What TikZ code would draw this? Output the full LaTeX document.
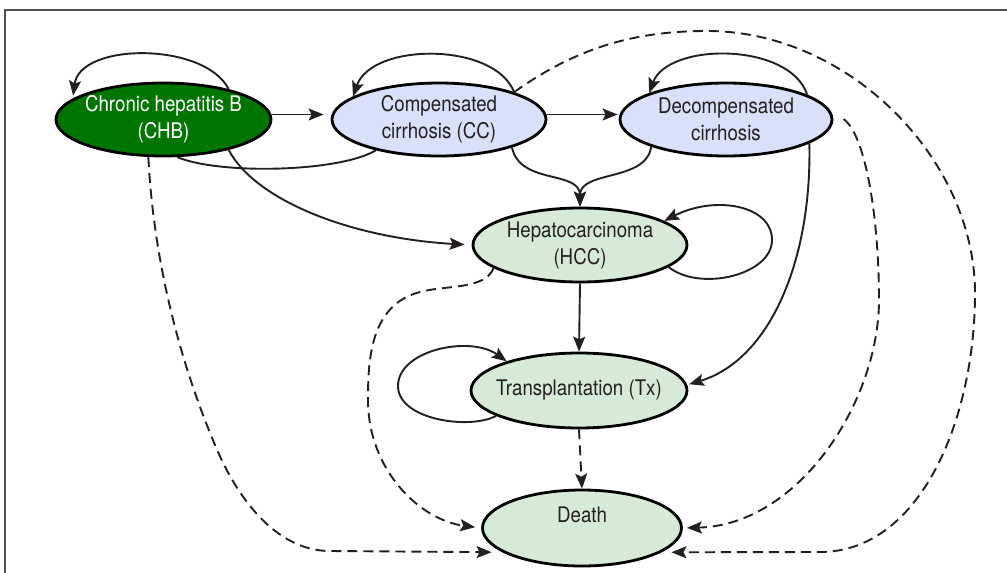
\documentclass[tikz,border=0pt]{standalone}
\usepackage{fontspec}
\setmainfont[FakeStretch=0.87]{TeX Gyre Heros}
\usetikzlibrary{shapes.geometric,arrows.meta}
\definecolor{chbfill}{RGB}{0,117,0}
\definecolor{ccfill}{RGB}{217,224,250}
\definecolor{gfill}{RGB}{215,234,215}
\definecolor{linedark}{RGB}{35,31,32}
\definecolor{framegray}{RGB}{80,80,80}
\tikzset{
  state/.style={ellipse, draw=black, line width=2.8pt, inner xsep=-14pt, inner ysep=0pt,
    align=center, font=\fontsize{21.5}{27}\selectfont, text=linedark},
  trans/.style={line width=1.9pt, draw=linedark,
    -{Stealth[length=15pt,width=12pt,inset=3pt]}},
  dtrans/.style={trans, dash pattern=on 10pt off 6pt},
  plainline/.style={line width=1.9pt, draw=linedark},
}
\begin{document}
\begin{tikzpicture}[x=1pt,y=-1pt]
\useasboundingbox (0,0) rectangle (1007,573);
\draw[framegray, line width=2pt] (1007,10) -- (5,10) -- (5,573);

\node[state, fill=chbfill, text=white, minimum width=215pt, minimum height=73pt] (chb) at (163.5,119.5) {Chronic hepatitis B\\(CHB)};
\node[state, fill=ccfill, minimum width=214pt, minimum height=73pt] (cc) at (439,119.5) {Compensated\\cirrhosis (CC)};
\node[state, fill=ccfill, minimum width=212pt, minimum height=73pt] (dc) at (726,119.5) {Decompensated\\cirrhosis};
\node[state, fill=gfill, minimum width=214pt, minimum height=74pt] (hcc) at (580,245) {Hepatocarcinoma\\(HCC)};
\node[state, fill=gfill, minimum width=216pt, minimum height=75pt] (tx) at (579,390.5) {Transplantation (Tx)};
\node[state, fill=gfill, minimum width=199pt, minimum height=76pt] (death) at (582,528) {Death\\~};

% self loops
\draw[trans, shorten >=3pt] (chb.25) .. controls (205,42) and (80,42) .. (chb.167);
\draw[trans] (cc.20) .. controls (495,42) and (372,42) .. (cc.165);
\draw[trans] (dc.17) .. controls (790,42) and (668,42) .. (dc.161);
\draw[trans] (hcc.-14) .. controls (700,292) and (772,275) .. (772,240) .. controls (772,205) and (715,195) .. (hcc.16);
\draw[trans] (tx.197) .. controls (470,430) and (398,420) .. (398,386) .. controls (398,350) and (470,335) .. (tx.158);

% forward transitions
\draw[trans, shorten >=7pt] ([yshift=5pt]chb.east) -- ([yshift=5pt]cc.west);
\draw[trans, shorten >=1pt] ([yshift=5pt]cc.east) -- ([yshift=5pt]dc.west);
\draw[plainline] (cc.206) .. controls (340,172) and (220,175) .. (chb.290);
\draw[trans, shorten >=7pt] (chb.-25) .. controls (255,200) and (350,238) .. (hcc.west);
\draw[trans] (cc.-21) .. controls (520,185) and (580,170) .. (hcc.north);
\draw[trans] (dc.200) .. controls (646,182) and (580,170) .. (hcc.north);
\draw[trans] (hcc.south) -- (tx.north);
\draw[trans, shorten >=2pt] (dc.-16) .. controls (812,260) and (770,360) .. (tx.3);

% transitions to death
\draw[dtrans] (tx.south) -- (death.north);
\draw[dtrans, shorten >=6pt] (hcc.195) .. controls (485,290) and (445,285) .. (420,292) .. controls (370,305) and (368,360) .. (368,400) .. controls (368,470) and (420,520) .. (death.west);
\draw[dtrans, shorten >=11pt] (chb.248) .. controls (153,250) and (175,350) .. (215,445) .. controls (240,505) and (280,551) .. (330,551) -- (death.197);
\draw[dtrans, shorten <=18pt, shorten >=4pt] (dc.6) .. controls (866,135) and (879,220) .. (879,300) .. controls (879,400) and (800,525) .. (death.east);
\draw[dtrans, shorten >=10pt] (cc.20) .. controls (580,45) and (640,31) .. (707,31) .. controls (850,31) and (975,160) .. (975,293) .. controls (975,420) and (920,552) .. (820,552) -- (death.343);
\end{tikzpicture}
\end{document}
